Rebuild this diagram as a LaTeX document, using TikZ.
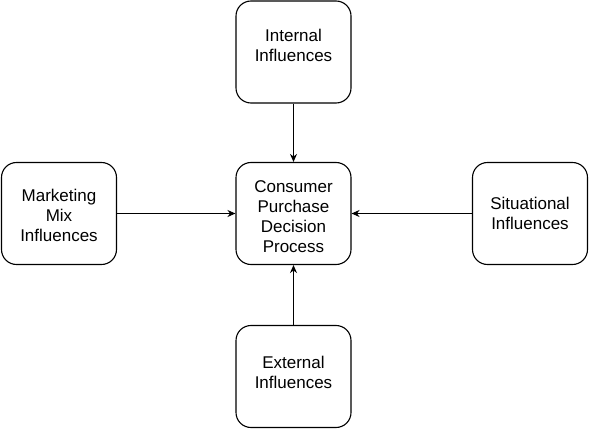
\documentclass[tikz,border=0pt]{standalone}
\usepackage{fontspec}
\setmainfont{Liberation Sans}
\usetikzlibrary{arrows.meta}

\tikzset{
  infbox/.style={shape=rectangle, draw=black, rounded corners=15pt, line width=1.1pt,
    minimum width=115pt, minimum height=102pt, inner sep=0pt},
  inftext/.style={align=center, inner sep=0pt,
    font=\fontsize{17}{20}\selectfont},
  infarrow/.style={-{Stealth[length=8pt,width=7pt]}, line width=1pt}
}

\begin{document}
\begin{tikzpicture}[x=1pt,y=1pt]
        \useasboundingbox (0,0) rectangle (589,429);
        \node[infbox] (P) at (293.5,215.5) {};
        \node[infbox] (I) at (293.5,377) {};
        \node[infbox] (M) at (59,215.5) {};
        \node[infbox] (S) at (530,215.5) {};
        \node[infbox] (E) at (293.5,52.5) {};

        \node[inftext] (Ptext) at ([yshift=-3pt]P.center) {Consumer\\Purchase\\Decision\\Process};
        \node[inftext] (Itext) at ([yshift=7pt]I.center) {Internal\\Influences};
        \node[inftext] (Mtext) at ([yshift=-2pt]M.center) {Marketing\\Mix\\Influences};
        \node[inftext] (Stext) at (S.center) {Situational\\Influences};
        \node[inftext] (Etext) at ([yshift=4pt]E.center) {External\\Influences};

        \path [infarrow] (I) edge node {} (P);
        \path [infarrow] (M) edge node {} (P);
        \path [infarrow] (S) edge node {} (P);
        \path [infarrow] (E) edge node {} (P);
\end{tikzpicture}
\end{document}
